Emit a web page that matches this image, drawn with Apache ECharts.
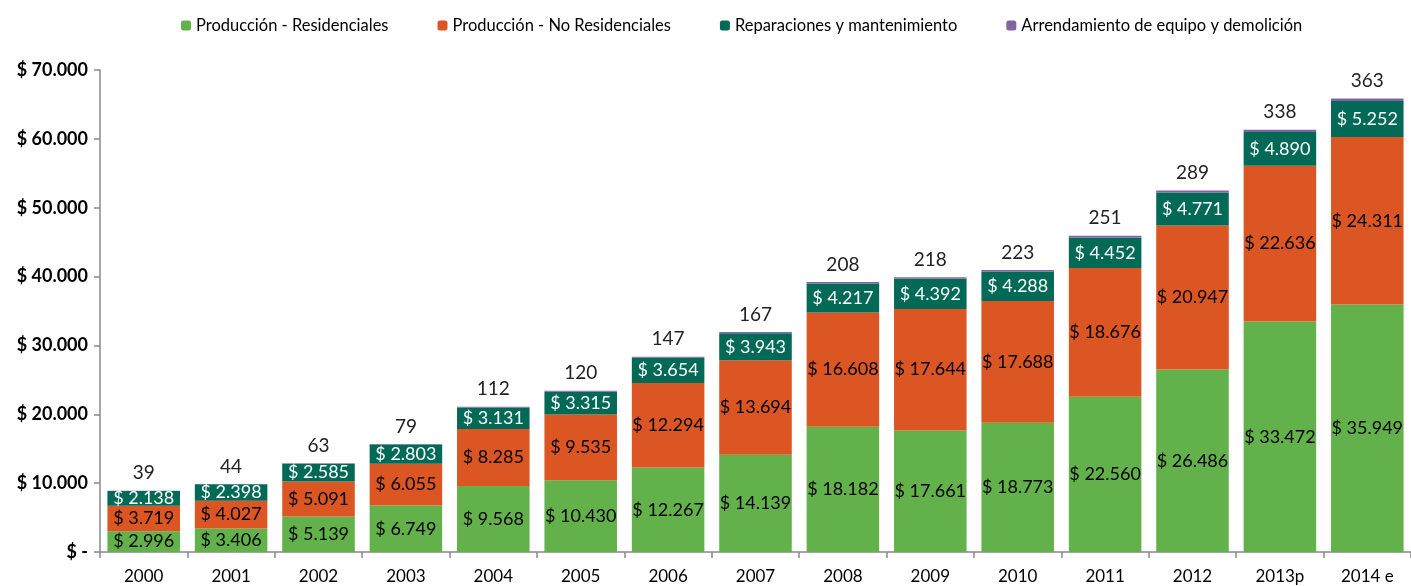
<!DOCTYPE html>
<html>
<head>
	<meta charset="UTF-8">
	<title></title>
	<script src="https://cdn.jsdelivr.net/npm/echarts@6/dist/echarts.min.js"></script>
	<style>
		html, body { margin: 0; padding: 0; background: #fff; }
	</style>
</head>
<body>
<div id="main" style="width: 1411px;height:586px;"></div>
<script>
	// datos
	var years = ['2000','2001','2002','2003','2004','2005','2006','2007','2008','2009','2010','2011','2012','2013p','2014 e'];
	var residenciales = [2996, 3406, 5139, 6749, 9568, 10430, 12267, 14139, 18182, 17661, 18773, 22560, 26486, 33472, 35949];
	var noResidenciales = [3719, 4027, 5091, 6055, 8285, 9535, 12294, 13694, 16608, 17644, 17688, 18676, 20947, 22636, 24311];
	var reparaciones = [2138, 2398, 2585, 2803, 3131, 3315, 3654, 3943, 4217, 4392, 4288, 4452, 4771, 4890, 5252];
	var arrendamiento = [39, 44, 63, 79, 112, 120, 147, 167, 208, 218, 223, 251, 289, 338, 363];

	function miles(v){
		return String(v).replace(/\B(?=(\d{3})+(?!\d))/g, '.');
	}

	var fuente = 'Lato';
	var myChart = echarts.init(document.getElementById('main'));
	var option = {
		animation: false,
		textStyle: { fontFamily: fuente },
		legend: {
			top: 12,
			left: 176,
			itemWidth: 10,
			itemHeight: 10,
			itemGap: 49,
			textStyle: { fontSize: 16.5, color: '#000', fontFamily: fuente },
			data: ['Producción - Residenciales','Producción - No Residenciales','Reparaciones y mantenimiento','Arrendamiento de equipo y demolición']
		},
		grid: { left: 100, right: 0, top: 70, bottom: 34, containLabel: false },
		xAxis: {
			type: 'category',
			data: years,
			axisLine: { lineStyle: { color: '#888', width: 1.5 } },
			axisTick: { show: true, length: 6, lineStyle: { color: '#888', width: 1.5 } },
			axisLabel: { fontSize: 17, color: '#000', margin: 16, fontFamily: fuente }
		},
		yAxis: {
			type: 'value',
			min: 0,
			max: 70000,
			interval: 10000,
			splitLine: { show: false },
			axisLine: { show: true, lineStyle: { color: '#888', width: 1.5 } },
			axisTick: { show: true, length: 6, lineStyle: { color: '#888', width: 1.5 } },
			axisLabel: {
				fontSize: 18, fontWeight: 'bold', color: '#000', margin: 12, fontFamily: fuente,
				formatter: function(v){ return v === 0 ? '$ -' : '$ ' + miles(v); }
			}
		},
		series: [
			{
				name: 'Producción - Residenciales', type: 'bar', stack: 'total',
				barCategoryGap: '17%',
				itemStyle: { color: '#63B14B' },
				label: { show: true, position: 'inside', color: '#000', fontSize: 18, fontFamily: fuente,
					formatter: function(p){ return '$ ' + miles(p.value); } },
				data: residenciales
			},
			{
				name: 'Producción - No Residenciales', type: 'bar', stack: 'total',
				itemStyle: { color: '#DB5622' },
				label: { show: true, position: 'inside', color: '#000', fontSize: 18, fontFamily: fuente,
					formatter: function(p){ return '$ ' + miles(p.value); } },
				data: noResidenciales
			},
			{
				name: 'Reparaciones y mantenimiento', type: 'bar', stack: 'total',
				itemStyle: { color: '#006A56' },
				label: { show: true, position: 'inside', color: '#fff', fontSize: 18, fontFamily: fuente,
					formatter: function(p){ return '$ ' + miles(p.value); } },
				data: reparaciones
			},
			{
				name: 'Arrendamiento de equipo y demolición', type: 'bar', stack: 'total',
				itemStyle: { color: '#8064A2' },
				label: { show: true, position: 'top', color: '#222', fontSize: 19, distance: 8, fontFamily: fuente },
				data: arrendamiento
			}
		]
	};
	myChart.setOption(option);
</script>
</body>
</html>
